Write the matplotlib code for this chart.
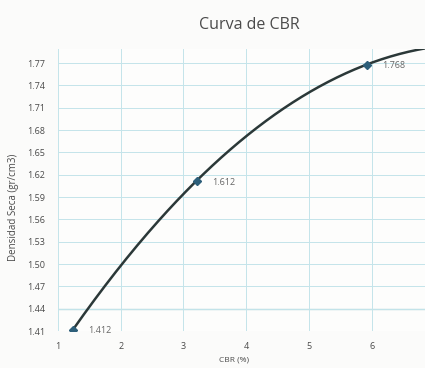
import matplotlib.pyplot as plt
import numpy as np

# ensayo CBR: densidad seca vs CBR
cbr = [1.24, 3.21, 5.92]
densidad = [1.412, 1.612, 1.768]
etiquetas = ['1.412', '1.612', '1.768']
y_ticks = [1.41, 1.44, 1.47, 1.50, 1.53, 1.56, 1.59, 1.62, 1.65, 1.68, 1.71, 1.74, 1.77]
x_ticks = [1, 2, 3, 4, 5, 6]

plt.rcParams['font.family'] = ['Open Sans', 'DejaVu Sans']
txt = '#4a4a4a'

fig = plt.figure(figsize=(4.25, 3.68), dpi=100)
fig.patch.set_facecolor('#fbfbfa')
ax = fig.add_axes([0.1365, 0.1005, 0.8635, 0.7665])
ax.set_facecolor('#fdfdfc')

# linea de tendencia polinomica de grado 2
coef = np.polyfit(cbr, densidad, 2)
xs = np.linspace(cbr[0], 6.9, 200)
ax.plot(xs, np.polyval(coef, xs), color='#2b3838', lw=1.8, zorder=3)
ax.plot(cbr, densidad, 'D', color='#2d5f7a', ms=4.5, zorder=4)
for x, y, t in zip(cbr, densidad, etiquetas):
    ax.annotate(t, (x, y), xytext=(11, -1), textcoords='offset points',
                fontsize=6.5, color='#666666', va='center')

ax.set_xlim(1, 6.85)
ax.set_ylim(1.41, 1.789)
ax.set_xticks(x_ticks)
ax.set_yticks(y_ticks)
ax.set_yticklabels(['%.2f' % v for v in y_ticks])
ax.tick_params(length=0, labelsize=6.5, labelcolor=txt)
ax.tick_params(axis='y', pad=9)
ax.tick_params(axis='x', pad=8)
ax.grid(True, color='#c4e4ea', lw=0.7)
for y in [1.44]:
    ax.axhline(y, color='#8cc4cc', lw=0.9, zorder=1)
for s in ax.spines.values():
    s.set_visible(False)

fig.text(249 / 425, 1 - 25 / 368, 'Curva de CBR', fontsize=11.5, color=txt,
         ha='center', va='center')
ax.set_xlabel('CBR (%)', fontsize=6, color=txt)
ax.xaxis.set_label_coords(0.48, -0.09)
ax.set_ylabel('Densidad Seca (gr/cm3)', fontsize=7, color=txt)
ax.yaxis.set_label_coords(-0.105, 0.44)

fig.savefig('out.png', dpi=100)
